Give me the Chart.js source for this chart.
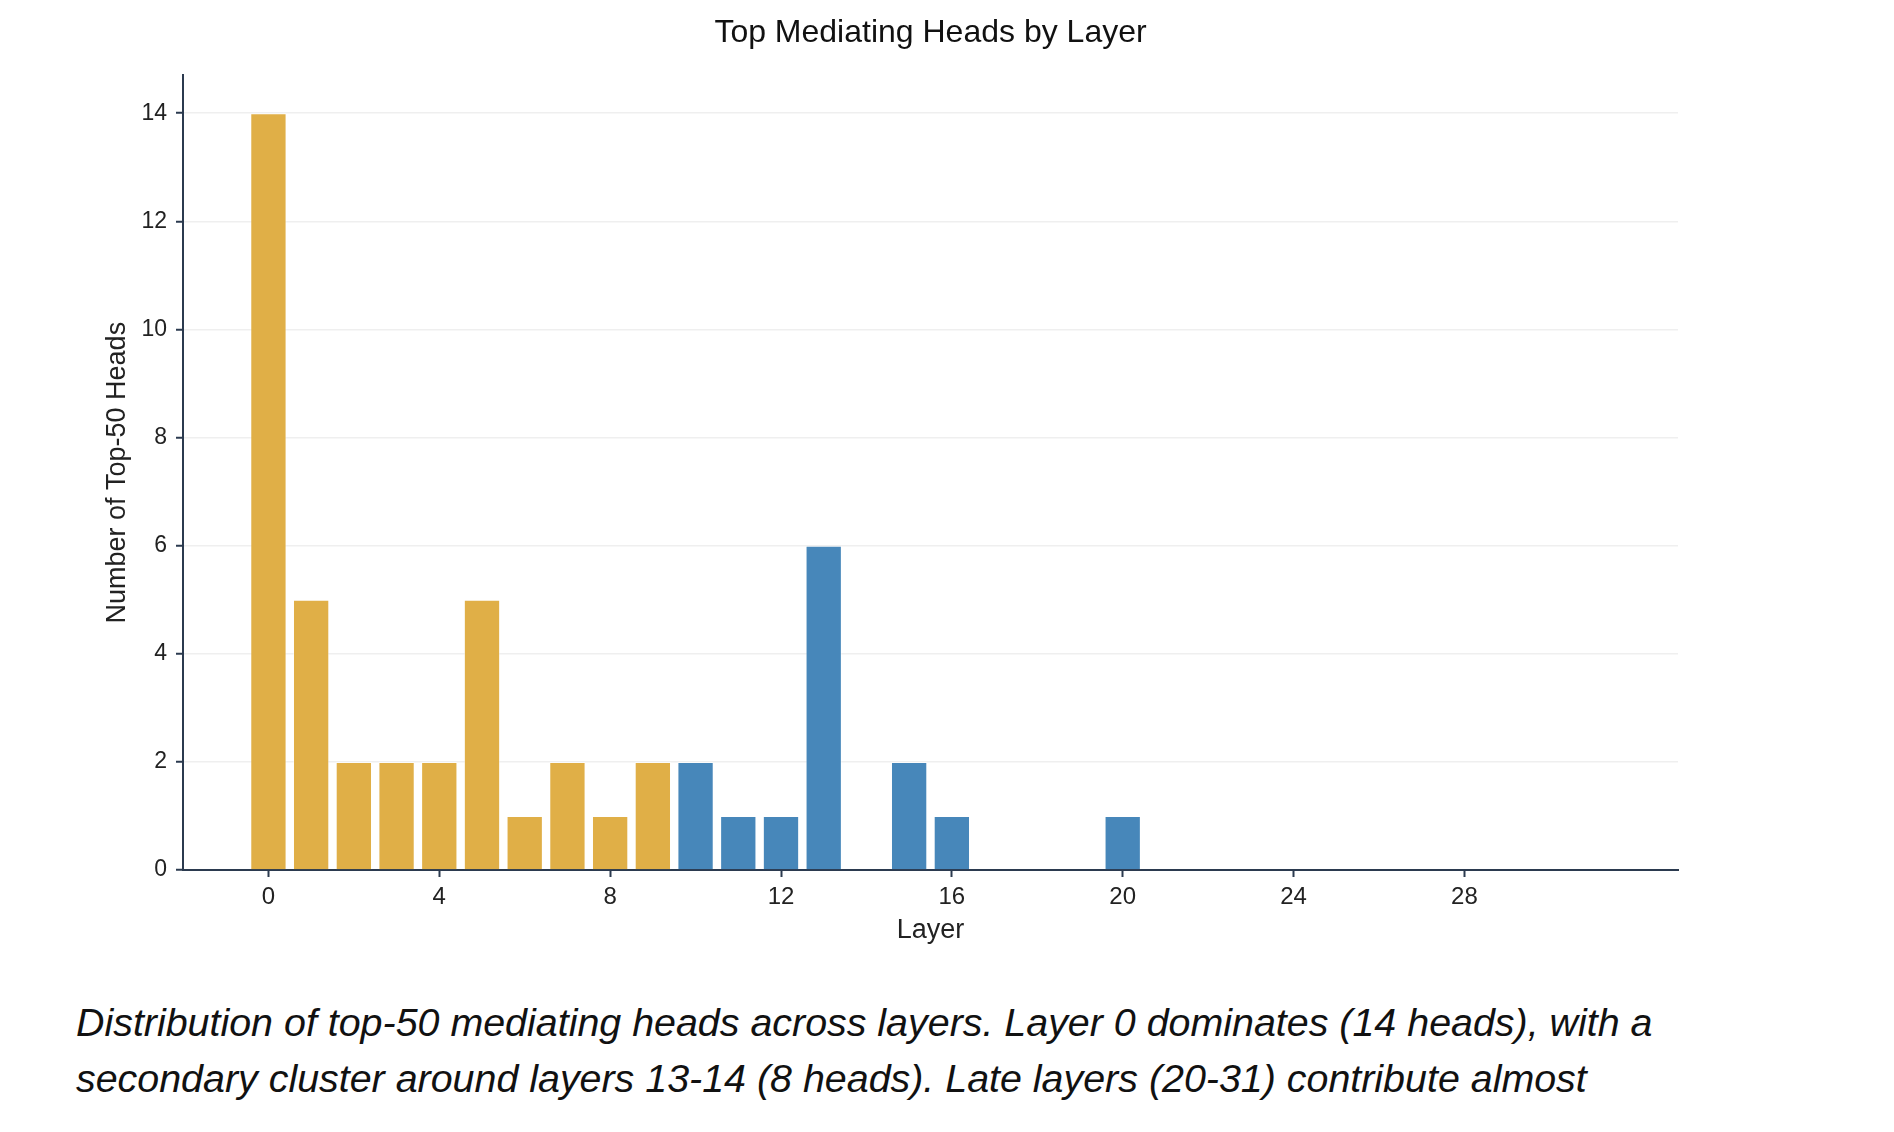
<!DOCTYPE html>
<html>
<head>
<meta charset="utf-8">
<script src="https://cdn.jsdelivr.net/npm/chart.js@4.4.0/dist/chart.umd.min.js"></script>
<style>
  body { margin: 0; background: #fff; }
  #wrap { position: absolute; left: 0; top: 0; width: 1894px; height: 960px; }
  #caption {
    position: absolute; left: 76px; top: 994px; width: 1800px;
    font-family: "Liberation Sans", Arial, sans-serif; font-style: italic;
    font-size: 39.4px; line-height: 56px; color: #111; white-space: nowrap;
  }
</style>
</head>
<body>
<div id="wrap"><canvas id="layerChart"></canvas></div>
<div id="caption">Distribution of top-50 mediating heads across layers. Layer 0 dominates (14 heads), with a<br>secondary cluster around layers 13-14 (8 heads). Late layers (20-31) contribute almost</div>
<script>
var layers = [0, 1, 2, 3, 4, 5, 6, 7, 8, 9, 10, 11, 12, 13, 14, 15,
              16, 17, 18, 19, 20, 21, 22, 23, 24, 25, 26, 27, 28, 29, 30, 31];
var headCounts = [14, 5, 2, 2, 2, 5, 1, 2, 1, 2, 2, 1, 1, 6, 0, 2,
                  1, 0, 0, 0, 1, 0, 0, 0, 0, 0, 0, 0, 0, 0, 0, 0];
var xTicks = [0, 4, 8, 12, 16, 20, 24, 28];
var yTicks = [0, 2, 4, 6, 8, 10, 12, 14];

var gold = '#E0AF47';
var blue = '#4787BA';
var axisColor = '#2B3A4F';
var font = '"Liberation Sans", Arial, sans-serif';

var ctx = document.getElementById('layerChart').getContext('2d');
var layerChart = new Chart(ctx, {
    type: 'bar',
    data: {
        datasets: [{
            label: 'Top-50 heads',
            data: layers.map(function (l, i) { return { x: l, y: headCounts[i] }; }),
            backgroundColor: layers.map(function (l) { return l < 10 ? gold : blue; }),
            borderColor: 'rgba(255,255,255,0.45)',
            borderWidth: 1,
            barPercentage: 0.85,
            categoryPercentage: 1
        }]
    },
    options: {
        responsive: true,
        maintainAspectRatio: false,
        animation: false,
        layout: { padding: { left: 101, right: 216, top: 0, bottom: 0 } },
        scales: {
            x: {
                type: 'linear',
                min: -2,
                max: 33,
                offset: false,
                afterBuildTicks: function (scale) {
                    scale.ticks = xTicks.map(function (v) { return { value: v }; });
                },
                afterFit: function (scale) { scale.height = 90; },
                grid: {
                    offset: false,
                    drawOnChartArea: false,
                    drawTicks: true,
                    tickLength: 7,
                    tickColor: axisColor,
                    tickWidth: 2
                },
                border: { color: axisColor, width: 2 },
                ticks: { color: '#222', font: { family: font, size: 24 }, padding: 6 },
                title: {
                    display: true,
                    text: 'Layer',
                    color: '#222',
                    font: { family: font, size: 27 },
                    padding: { top: 0, bottom: 13 }
                }
            },
            y: {
                min: 0,
                max: 14.7,
                afterBuildTicks: function (scale) {
                    scale.ticks = yTicks.map(function (v) { return { value: v }; });
                },
                afterFit: function (scale) { scale.width = 82; },
                grid: {
                    color: '#EFEFEF',
                    lineWidth: 1.5,
                    tickLength: 7,
                    tickColor: axisColor,
                    tickWidth: 2
                },
                border: { color: axisColor, width: 2 },
                ticks: { color: '#222', font: { family: font, size: 23 }, padding: 9 },
                title: {
                    display: true,
                    text: 'Number of Top-50 Heads',
                    color: '#222',
                    font: { family: font, size: 27 },
                    padding: { top: 0, bottom: 10 }
                }
            }
        },
        plugins: {
            legend: { display: false },
            tooltip: { enabled: false },
            title: {
                display: true,
                fullSize: false,
                text: 'Top Mediating Heads by Layer',
                color: '#111',
                font: { family: font, size: 32, weight: 'normal' },
                padding: { top: 14, bottom: 23 }
            }
        }
    }
});
</script>
</body>
</html>
